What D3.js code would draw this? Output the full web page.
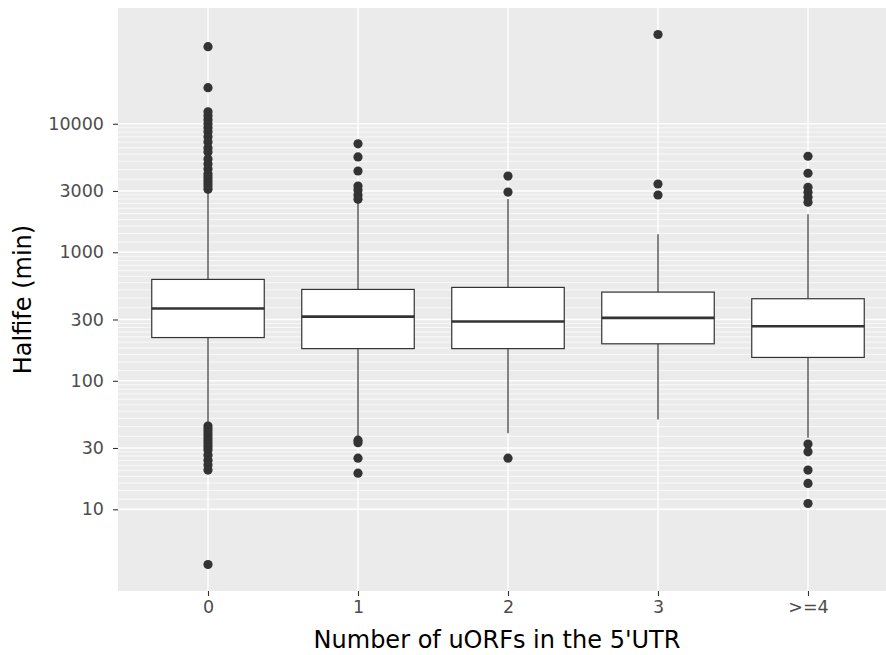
<!DOCTYPE html>
<html>
<head>
<meta charset="utf-8">
<script src="https://cdn.jsdelivr.net/npm/d3@7"></script>
<style>
body { margin: 0; background: #fff; }
text { font-family: "DejaVu Sans", sans-serif; }
</style>
</head>
<body>
<svg></svg>
<script>
// box stats (halflife in min)
var categories = ["0", "1", "2", "3", ">=4"];
var q1 = [217, 178, 178, 194, 152];
var median = [365, 316, 289, 309, 266];
var q3 = [615, 514, 533, 490, 435];
var whiskerLow = [45, 37, 39, 50, 36];
var whiskerHigh = [2950, 2500, 2600, 1380, 1980];
var outliers = [
  [39800, 19100, 12400, 11550, 10740, 10000, 9310, 8660, 7910, 7220, 6490, 6040,
   5330, 4870, 4450, 4060, 3850, 3650, 3460, 3280, 3100,
   44.5, 42.2, 40, 37.9, 35.9, 34, 32.2, 30.5, 28.9, 26.4, 24.1, 22.1, 20.2, 3.72],
  [6980, 5520, 4290, 3280, 3050, 2790, 2590, 34.5, 33, 25, 19.1],
  [3920, 2940, 25],
  [49500, 3400, 2790],
  [5590, 4120, 3200, 2930, 2680, 2450, 32.2, 28, 20.2, 15.9, 11.1]
];
var yTicks = [10, 30, 100, 300, 1000, 3000, 10000];

var width = 886, height = 655;
var panel = {left: 118, right: 898, top: 8, bottom: 591};

var svg = d3.select("svg")
  .attr("width", width)
  .attr("height", height);

var x = d3.scalePoint()
  .domain(categories)
  .range([panel.left, panel.right])
  .padding(0.6);

// log scale, expanded 5% on each side like ggplot
var allVals = d3.merge([q1, median, q3, whiskerLow, whiskerHigh, d3.merge(outliers)]);
var lo = Math.log10(d3.min(allVals)), hi = Math.log10(d3.max(allVals));
var pad = (hi - lo) * 0.05;
var y = d3.scaleLog()
  .domain([Math.pow(10, lo - pad), Math.pow(10, hi + pad)])
  .range([panel.bottom, panel.top]);

// panel background
svg.append("rect")
  .attr("x", panel.left)
  .attr("y", panel.top)
  .attr("width", panel.right - panel.left)
  .attr("height", panel.bottom - panel.top)
  .attr("fill", "#ebebeb");

// minor grid: 9 lines between each pair of major breaks
var minor = [];
for (var i = 0; i < yTicks.length - 1; i++) {
  var a = yTicks[i], b = yTicks[i + 1];
  for (var k = 1; k < 10; k++) minor.push(a + k * (b - a) / 10);
}

var grid = svg.append("g");
grid.selectAll("line.minor")
  .data(minor)
  .enter().append("line")
  .attr("class", "minor")
  .attr("x1", panel.left).attr("x2", panel.right)
  .attr("y1", function(d) { return y(d); })
  .attr("y2", function(d) { return y(d); })
  .attr("stroke", "#fff")
  .attr("stroke-width", 0.7);

grid.selectAll("line.major")
  .data(yTicks)
  .enter().append("line")
  .attr("class", "major")
  .attr("x1", panel.left).attr("x2", panel.right)
  .attr("y1", function(d) { return y(d); })
  .attr("y2", function(d) { return y(d); })
  .attr("stroke", "#fff")
  .attr("stroke-width", 1.4);

grid.selectAll("line.vmajor")
  .data(categories)
  .enter().append("line")
  .attr("class", "vmajor")
  .attr("y1", panel.top).attr("y2", panel.bottom)
  .attr("x1", function(d) { return x(d); })
  .attr("x2", function(d) { return x(d); })
  .attr("stroke", "#fff")
  .attr("stroke-width", 1.4);

// boxes
var boxW = x.step() * 0.75;
var box = svg.append("g").selectAll("g")
  .data(categories)
  .enter().append("g");

box.append("line")
  .attr("x1", function(d) { return x(d); })
  .attr("x2", function(d) { return x(d); })
  .attr("y1", function(d, i) { return y(whiskerHigh[i]); })
  .attr("y2", function(d, i) { return y(q3[i]); })
  .attr("stroke", "#333333").attr("stroke-width", 1.2);

box.append("line")
  .attr("x1", function(d) { return x(d); })
  .attr("x2", function(d) { return x(d); })
  .attr("y1", function(d, i) { return y(q1[i]); })
  .attr("y2", function(d, i) { return y(whiskerLow[i]); })
  .attr("stroke", "#333333").attr("stroke-width", 1.2);

box.append("rect")
  .attr("x", function(d) { return x(d) - boxW / 2; })
  .attr("width", boxW)
  .attr("y", function(d, i) { return y(q3[i]); })
  .attr("height", function(d, i) { return y(q1[i]) - y(q3[i]); })
  .attr("fill", "#fff")
  .attr("stroke", "#333333").attr("stroke-width", 1.2);

box.append("line")
  .attr("x1", function(d) { return x(d) - boxW / 2; })
  .attr("x2", function(d) { return x(d) + boxW / 2; })
  .attr("y1", function(d, i) { return y(median[i]); })
  .attr("y2", function(d, i) { return y(median[i]); })
  .attr("stroke", "#333333").attr("stroke-width", 2.6);

box.selectAll("circle")
  .data(function(d, i) { return outliers[i].map(function(v) { return {c: d, v: v}; }); })
  .enter().append("circle")
  .attr("cx", function(d) { return x(d.c); })
  .attr("cy", function(d) { return y(d.v); })
  .attr("r", 4.6)
  .attr("fill", "#333333");

// axes
var yAxis = svg.append("g")
  .attr("transform", "translate(" + panel.left + ",0)")
  .call(d3.axisLeft(y).tickValues(yTicks).tickFormat(d3.format("d")).tickSize(5).tickPadding(9));

var xAxis = svg.append("g")
  .attr("transform", "translate(0," + panel.bottom + ")")
  .call(d3.axisBottom(x).tickSize(5).tickPadding(5));

[yAxis, xAxis].forEach(function(ax) {
  ax.select(".domain").remove();
  ax.selectAll(".tick line").attr("stroke", "#333333").attr("stroke-width", 1.1);
  ax.selectAll(".tick text")
    .attr("fill", "#4d4d4d")
    .style("font-size", "17.5px")
    .style("font-family", "DejaVu Sans");
});

svg.append("text")
  .attr("x", 497)
  .attr("y", 648)
  .attr("text-anchor", "middle")
  .attr("fill", "#000")
  .style("font-size", "24px")
  .text("Number of uORFs in the 5'UTR");

svg.append("text")
  .attr("transform", "translate(31," + ((panel.top + panel.bottom) / 2) + ") rotate(-90)")
  .attr("text-anchor", "middle")
  .attr("fill", "#000")
  .style("font-size", "24px")
  .text("Halfife (min)");
</script>
</body>
</html>
